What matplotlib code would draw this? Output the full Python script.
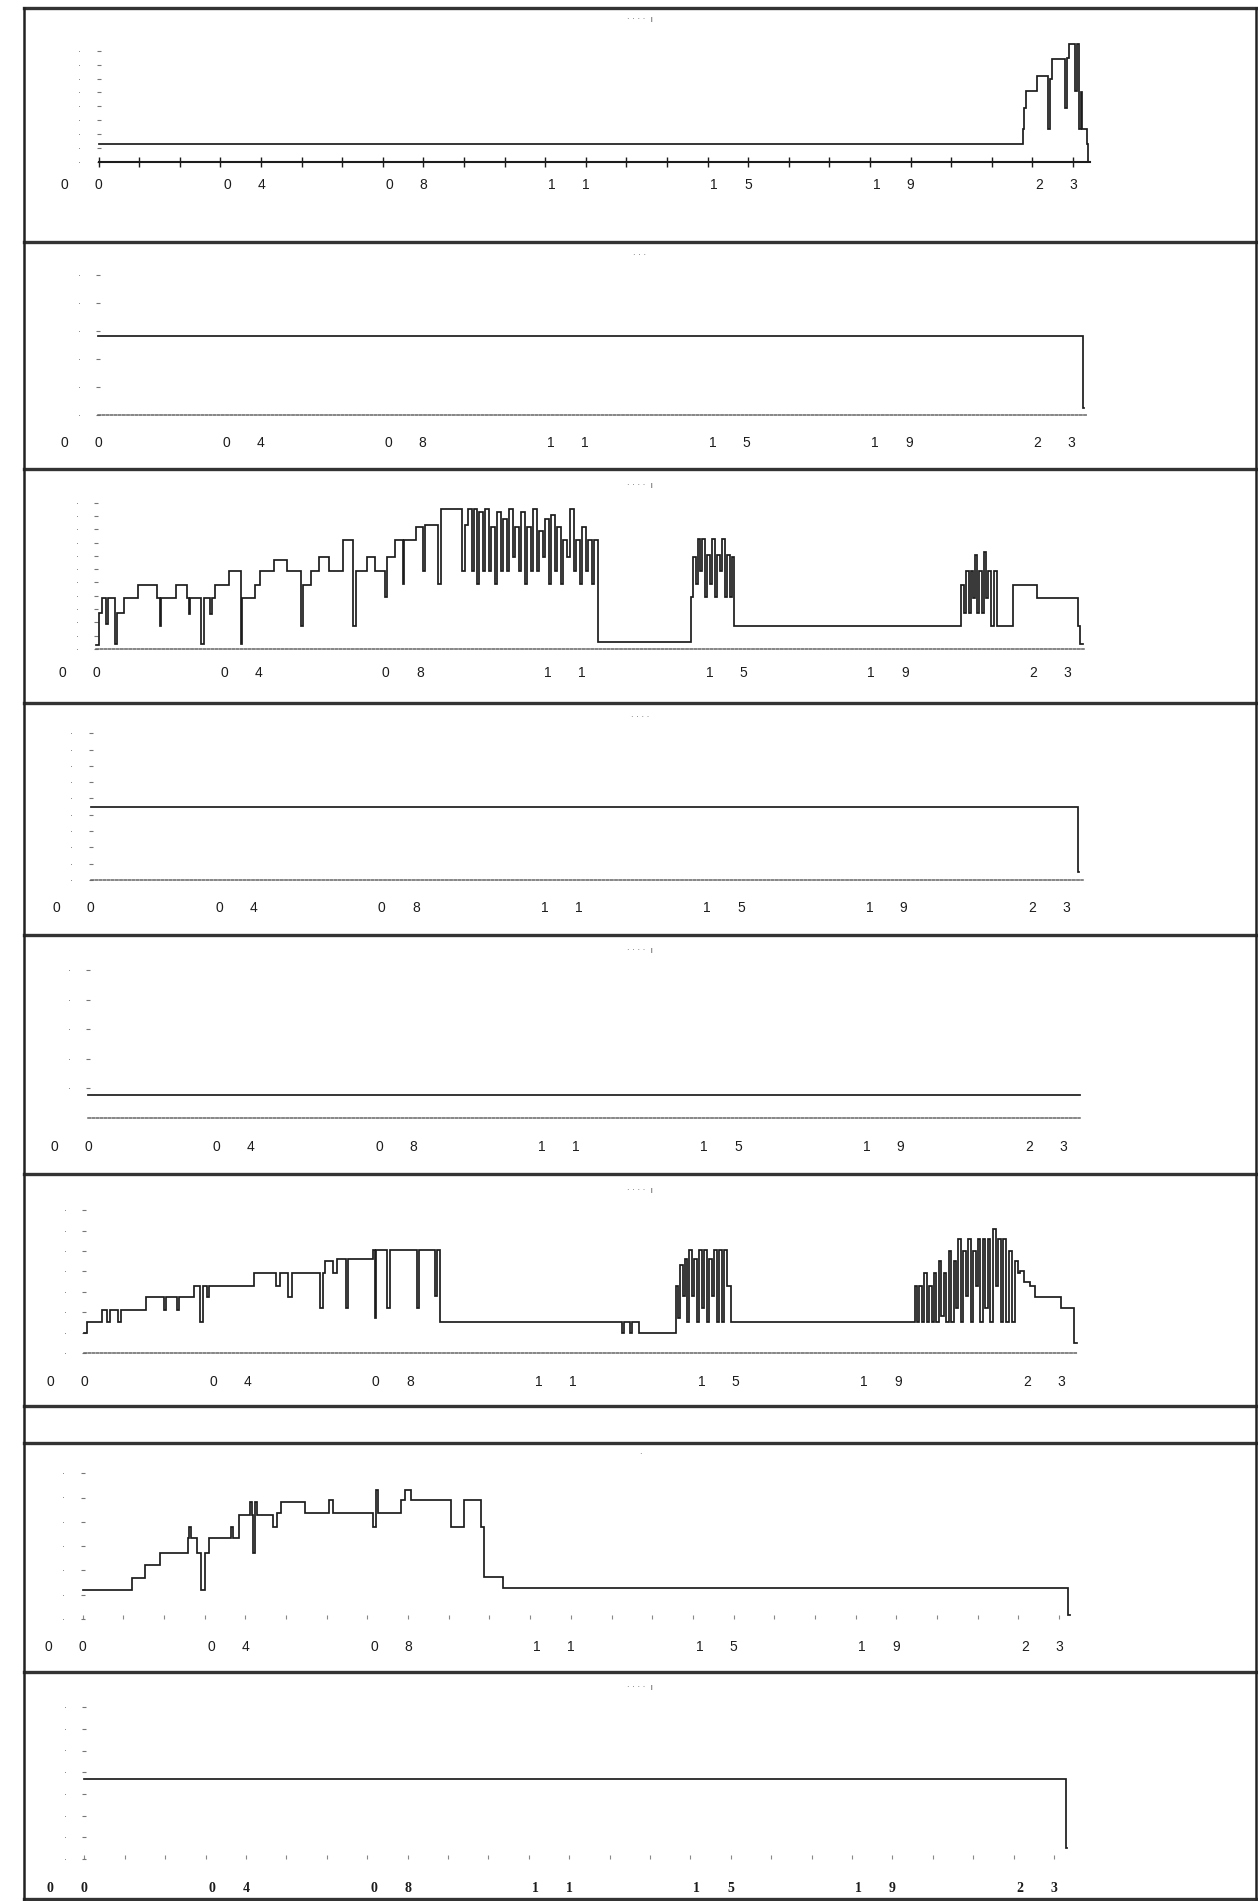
import matplotlib.pyplot as plt
from matplotlib.lines import Line2D

W, H = 1258, 1901

# hour marks along each strip and the (two-digit) labels printed under them
hour_ticks = [0, 4, 8, 12, 16, 20, 24]
hour_text = [("0", "0"), ("0", "4"), ("0", "8"), ("1", "1"), ("1", "5"), ("1", "9"), ("2", "3")]

# strip 1: flat until late evening, then a burst
t1 = [0.00, 22.77, 22.80, 22.84, 23.11, 23.38, 23.43, 23.48, 23.80, 23.84, 23.90,
      24.05, 24.09, 24.14, 24.20, 24.23, 24.34, 24.37, 24.39]
v1 = [1.3, 2.4, 3.9, 5.1, 6.2, 2.4, 6.0, 7.4, 3.9, 7.5, 8.5,
      5.1, 8.5, 2.4, 5.0, 2.4, 1.3, 0.0, 0.0]

# strip 2: constant level
t2 = [0.00, 24.30, 24.33]
v2 = [2.82, 0.25, 0.25]

# strip 3: staircase in the morning, dense switching, two later bursts
t3 = [0.00, 0.06, 0.14, 0.24, 0.28, 0.45, 0.51, 0.69, 1.03, 1.49, 1.57, 1.61, 1.96,
      2.24, 2.28, 2.32, 2.60, 2.66, 2.80, 2.86, 2.94, 3.27, 3.57, 3.61, 3.93, 4.05,
      4.40, 4.72, 5.06, 5.12, 5.30, 5.50, 5.75, 6.09, 6.35, 6.43, 6.69, 6.88, 7.14,
      7.18, 7.38, 7.58, 7.62, 7.90, 8.08, 8.12, 8.45, 8.53,
      9.05, 9.12, 9.20, 9.28, 9.33, 9.42, 9.47, 9.55, 9.60, 9.70, 9.75, 9.85, 9.90,
      10.00, 10.05, 10.15, 10.20, 10.30, 10.35, 10.45, 10.50, 10.60, 10.65, 10.75,
      10.80, 10.90, 10.95, 11.05, 11.10, 11.20, 11.25, 11.35, 11.40, 11.50, 11.55,
      11.65, 11.70, 11.80, 11.85, 11.95, 12.00, 12.10, 12.15, 12.25, 12.30, 12.40,
      14.70, 14.75, 14.82, 14.87, 14.93, 14.98, 15.05, 15.10, 15.17, 15.22, 15.30,
      15.35, 15.42, 15.47, 15.55, 15.60, 15.68, 15.72, 15.77,
      21.39, 21.45, 21.50, 21.57, 21.62, 21.68, 21.72, 21.78, 21.83, 21.90, 21.95,
      22.00, 22.05, 22.12, 22.20, 22.28, 22.66, 23.27, 24.27, 24.33, 24.40]
v3 = [0.3, 2.7, 3.8, 1.9, 3.8, 0.4, 2.7, 3.8, 4.8, 3.8, 1.7, 3.8, 4.8,
      3.8, 2.6, 3.8, 0.4, 3.8, 2.6, 3.8, 4.8, 5.9, 0.4, 3.8, 4.8, 5.9,
      6.7, 5.9, 1.7, 4.8, 5.9, 6.9, 5.9, 8.2, 1.7, 5.9, 6.9, 5.9, 3.9,
      6.9, 8.2, 4.9, 8.2, 9.2, 5.9, 9.3, 4.9, 10.5,
      5.9, 9.3, 10.5, 5.9, 10.5, 4.9, 10.3, 5.9, 10.5, 5.9, 9.2, 4.9, 10.3,
      5.9, 9.8, 5.9, 10.5, 6.9, 9.2, 5.9, 10.3, 4.9, 9.2, 5.9,
      10.5, 5.9, 8.9, 6.9, 9.8, 4.9, 10.1, 5.9, 9.2, 4.9, 8.2,
      6.9, 10.5, 5.9, 8.2, 4.9, 9.2, 5.9, 8.2, 4.9, 8.2, 0.55,
      3.9, 6.9, 4.9, 8.3, 5.9, 8.3, 3.9, 7.1, 4.9, 8.3, 3.9,
      7.1, 5.9, 8.3, 3.9, 7.1, 3.9, 6.9, 1.7,
      4.8, 2.7, 5.9, 2.7, 5.9, 3.8, 7.1, 2.7, 5.9, 2.7, 7.3,
      3.8, 5.9, 1.7, 5.9, 1.7, 4.8, 3.8, 1.7, 0.4, 0.4]

# strip 4: constant level
t4 = [0.00, 24.29, 24.31]
v4 = [4.48, 0.5, 0.5]

# strip 5: low constant level
t5 = [0.00, 24.41]
v5 = [0.78, 0.78]

# strip 6: staircase to mid-morning, then two bursts
t6 = [0.00, 0.06, 0.43, 0.57, 0.63, 0.83, 0.89, 1.52, 1.95, 2.00, 2.27, 2.33, 2.70,
      2.84, 2.92, 3.02, 3.06, 4.18, 4.70, 4.80, 5.00, 5.10, 5.80, 5.86, 5.92, 6.10,
      6.21, 6.43, 6.49, 7.10, 7.14, 7.18, 7.44, 7.50, 8.17, 8.23, 8.62, 8.66, 8.74,
      13.21, 13.27, 13.40, 13.46, 13.64,
      14.54, 14.60, 14.64, 14.70, 14.75, 14.82, 14.87, 14.94, 14.99, 15.06, 15.11,
      15.18, 15.23, 15.30, 15.35, 15.42, 15.47, 15.55, 15.60, 15.68, 15.72, 15.80,
      15.88,
      20.41, 20.46, 20.52, 20.58, 20.64, 20.70, 20.76, 20.82, 20.88, 20.94, 21.00,
      21.06, 21.12, 21.18, 21.24, 21.30, 21.36, 21.42, 21.48, 21.54, 21.60, 21.66,
      21.72, 21.78, 21.84, 21.90, 21.96, 22.02, 22.08, 22.14, 22.20, 22.26, 22.32,
      22.40, 22.46, 22.52, 22.58, 22.66, 22.72, 22.80, 22.86, 22.94, 23.00, 23.10,
      23.24, 23.37, 24.00, 24.32, 24.40]
v6 = [0.96, 1.53, 2.1, 1.53, 2.1, 1.53, 2.1, 2.76, 2.1, 2.76, 2.1, 2.76, 3.3,
      1.53, 3.3, 2.76, 3.3, 3.9, 3.3, 3.9, 2.76, 3.9, 2.2, 3.9, 4.5, 3.9,
      4.6, 2.2, 4.6, 5.05, 1.7, 5.05, 2.2, 5.05, 2.2, 5.05, 2.8, 5.05, 1.53,
      0.96, 1.53, 0.96, 1.53, 0.96,
      3.3, 1.7, 4.3, 2.8, 4.6, 1.53, 5.05, 2.8, 4.6, 1.53, 5.05,
      2.2, 5.05, 1.53, 4.6, 2.8, 5.05, 1.53, 5.05, 1.53, 5.05, 3.3,
      1.53,
      3.3, 1.53, 3.3, 1.53, 3.9, 1.53, 3.3, 1.53, 3.9, 1.53, 4.5,
      1.8, 3.9, 1.53, 5.0, 1.53, 4.5, 2.2, 5.6, 1.53, 5.0, 2.8,
      5.6, 1.53, 5.0, 3.3, 5.6, 1.53, 5.6, 2.2, 5.6, 1.53, 6.1,
      3.3, 5.6, 1.53, 5.6, 1.53, 5.0, 1.53, 4.5, 3.9, 4.0, 3.5,
      3.3, 2.76, 2.2, 0.47, 0.47]

# strip 7: morning ramp, then flat for the rest of the day
t7 = [0.00, 1.22, 1.52, 1.91, 2.60, 2.62, 2.66, 2.80, 2.90, 3.00, 3.10, 3.65, 3.69,
      3.85, 4.12, 4.16, 4.18, 4.24, 4.28, 4.67, 4.77, 4.87, 5.46, 6.06, 6.15, 7.14,
      7.20, 7.26, 7.34, 7.83, 7.93, 8.07, 9.05, 9.37, 9.41, 9.80, 9.86, 10.30, 10.34,
      24.21, 24.26]
v7 = [1.19, 1.67, 2.22, 2.7, 3.32, 3.8, 3.32, 2.7, 1.19, 2.7, 3.32, 3.8, 3.32,
      4.28, 4.83, 4.28, 2.7, 4.83, 4.28, 3.8, 4.35, 4.83, 4.35, 4.9, 4.35, 3.8,
      5.31, 4.35, 4.35, 4.9, 5.31, 4.9, 3.8, 4.9, 4.9, 3.8, 1.74, 1.74, 1.26,
      0.16, 0.16]

# strip 8: constant level
t8 = [0.00, 24.30, 24.32]
v8 = [3.69, 0.5, 0.5]

# y tick values per strip
yt = [range(0, 9), range(0, 6), range(0, 12), range(0, 10),
      range(1, 6), range(0, 8), range(0, 7), range(0, 8)]

series = [(t1, v1), (t2, v2), (t3, v3), (t4, v4),
          (t5, v5), (t6, v6), (t7, v7), (t8, v8)]

# page layout in pixels: strip top/bottom, x of hour 0 and 24, y of zero, px per unit,
# y of the little header marks and of the hour labels
layout = [
    (8, 242, 98.7, 1073, 162, 13.9, 19, 185),
    (242, 469, 97.9, 1071, 415, 27.9, 256, 443),
    (469, 703, 96.3, 1067, 649, 13.3, 485, 673),
    (703, 935, 90.7, 1066, 880, 16.3, 717, 908),
    (935, 1174, 88.3, 1063, 1118, 29.6, 950, 1147),
    (1174, 1406, 84.3, 1061, 1353, 20.4, 1190, 1382),
    (1443, 1672, 82.7, 1059, 1619, 24.3, 1455, 1647),
    (1672, 1900, 84.3, 1054, 1859, 21.7, 1687, 1888),
]
headers = ["· · · ·  ı", "· · ·", "· · · ·  ı", "· · · ·", "· · · ·  ı",
           "· · · ·  ı", "·", "· · · ·  ı"]

FL, FR = 24, 1256
ink = "#1c1c1c"

fig = plt.figure(figsize=(W / 100, H / 100), dpi=100)
fig.patch.set_facecolor("white")

for i, ((top, bot, x0, x24, yb, u, hy, ly), (t, v)) in enumerate(zip(layout, series)):
    ax = fig.add_axes([FL / W, 1 - bot / H, (FR - FL) / W, (bot - top) / H])
    ax.set_facecolor("none")
    s = (x24 - x0) / 24.0
    ax.set_xlim((FL - x0) / s, (FR - x0) / s)
    ax.set_ylim((yb - bot) / u, (yb - top) / u)

    ax.plot(t, v, drawstyle="steps-post", color=ink, lw=1.25, solid_joinstyle="miter")

    for sp in ("top", "right"):
        ax.spines[sp].set_visible(False)
    ax.spines["left"].set_position(("data", 0))
    ax.spines["left"].set_color("none")
    ax.spines["bottom"].set_position(("data", 0))
    ax.spines["bottom"].set_bounds(0, 24.42)

    ax.set_yticks(list(yt[i]))
    ax.set_yticklabels(["·"] * len(yt[i]))
    ax.tick_params(axis="y", length=3, width=0.8, color="#777", direction="inout",
                   pad=11, labelsize=7, labelcolor="#777")

    ax.set_xticks(range(25))
    ax.tick_params(axis="x", labelbottom=False)
    if i == 0:
        ax.spines["bottom"].set_color(ink)
        ax.spines["bottom"].set_linewidth(1.5)
        ax.tick_params(axis="x", length=7, width=1.0, color=ink, direction="inout")
    elif i >= 6:
        ax.spines["bottom"].set_color("none")
        ax.tick_params(axis="x", length=3, width=0.8, color="#888", direction="in")
    else:
        ax.spines["bottom"].set_color("#666")
        ax.spines["bottom"].set_linestyle((0, (1.5, 1.2)))
        ax.spines["bottom"].set_linewidth(1.1)
        ax.tick_params(axis="x", length=0)

    # hour labels, the second digit sits on the tick
    lab_y = (yb - ly) / u
    fam = "Liberation Serif" if i == 7 else "Liberation Sans"
    wgt = "bold" if i == 7 else "normal"
    for h, (a, b) in zip(hour_ticks, hour_text):
        ax.text(h - 34 / s, lab_y, a, ha="center", va="center", fontsize=10,
                family=fam, weight=wgt, color=ink)
        ax.text(h, lab_y, b, ha="center", va="center", fontsize=10,
                family=fam, weight=wgt, color=ink)

    fig.text(640 / W, 1 - hy / H, headers[i], ha="center", va="center",
             fontsize=6, color="#555")

# page frame and strip separators
for y in [8, 242, 469, 703, 935, 1174, 1406, 1443, 1672, 1899]:
    fig.add_artist(Line2D([FL / W, FR / W], [1 - y / H, 1 - y / H],
                          color="#333", lw=2.4, transform=fig.transFigure))
for x in [FL, FR]:
    fig.add_artist(Line2D([x / W, x / W], [1 - 8 / H, 1 - 1899 / H],
                          color="#222", lw=1.8, transform=fig.transFigure))

fig.savefig("out.png", dpi=100)
